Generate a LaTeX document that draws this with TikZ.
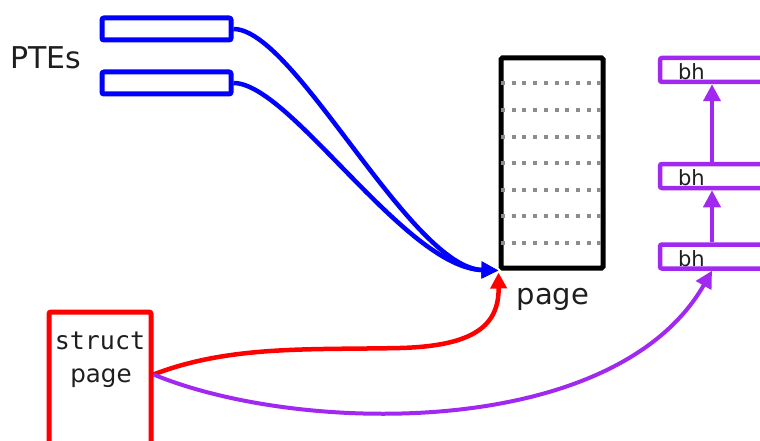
\documentclass[tikz,border=0pt]{standalone}
\usepackage{fontspec}
\setmainfont{DejaVu Sans}
\setmonofont{DejaVu Sans Mono}
\usetikzlibrary{arrows.meta,calc}

\definecolor{ptblue}{RGB}{0,0,255}
\definecolor{spred}{RGB}{255,0,0}
\definecolor{bhpurple}{RGB}{160,40,240}
\definecolor{ink}{RGB}{30,30,30}
\definecolor{dotgray}{RGB}{140,140,140}

\tikzset{
  ptebox/.style={draw=ptblue, line width=5pt, rounded corners=2pt,
    minimum width=129pt, minimum height=22pt, inner sep=0pt},
  pagebox/.style={draw=black, line width=5pt, rounded corners=1.5pt,
    minimum width=102pt, minimum height=210pt, inner sep=0pt},
  bhbox/.style={draw=bhpurple, line width=4.5pt, rounded corners=2pt,
    text width=110pt, align=left, inner xsep=18pt, inner ysep=0pt,
    text height=19pt, text depth=0pt,
    minimum height=24pt, text=ink, font=\fontsize{21}{24}\selectfont},
  spbox/.style={draw=spred, line width=5pt, rounded corners=2pt,
    minimum width=102pt, minimum height=200pt, inner sep=0pt},
  lbl/.style={text=ink, inner sep=0pt},
  dotline/.style={dotgray, line width=4pt, dash pattern=on 4pt off 6.7pt},
  blueconn/.style={ptblue, line width=4.5pt, -{Triangle[length=17pt,width=16pt]}},
  redconn/.style={spred, line width=4.5pt, -{Triangle[length=16pt,width=16pt]}},
  purpconn/.style={bhpurple, line width=4pt, -{Triangle[length=17pt,width=17pt]}},
}

\begin{document}
\begin{tikzpicture}[x=1pt,y=-1pt]
  \useasboundingbox (0,0) rectangle (760,441);
  \clip (0,0) rectangle (760,441);

  % page table entries
  \node[ptebox] (pte1) at (166.5,29) {};
  \node[ptebox] (pte2) at (166.5,83) {};
  \node[lbl, font=\fontsize{30}{36}\selectfont] (ptes) at (46,58) {PTEs};

  % the physical page with its blocks
  \node[pagebox] (page) at (552,163) {};
  \foreach \yy in {83,110,137,163,190,216,243}
    \draw[dotline] (501,\yy) -- (602,\yy);
  \node[lbl, font=\fontsize{29}{34}\selectfont] (pagelbl) at (553,299) {page};

  % buffer heads
  \node[bhbox] (bh1) at (733,70) {bh};
  \node[bhbox] (bh2) at (733,176) {bh};
  \node[bhbox] (bh3) at (733,256.5) {bh};
  \coordinate (ax) at (712,0);

  % struct page
  \node[spbox] (sp) at (100,412) {};
  \node[lbl, font=\ttfamily\fontsize{25}{30}\selectfont] (sptop) at (100,341) {struct};
  \node[lbl, font=\fontsize{24.5}{29}\selectfont] (spbot) at (101,378) {page};
  \coordinate (spout) at ($(sp.north east)+(0,65)$);

  % mappings onto the page
  \draw[blueconn] (pte1.east) .. controls (295,29) and (410,268) .. (page.south west);
  \draw[blueconn] (pte2.east) .. controls (290,83) and (405,268) .. (page.south west);

  % struct page -> page and -> buffer heads
  \draw[redconn] (spout) .. controls (230,345) and (310,350) .. (400,348)
                 .. controls (475,346) and (499,325) .. ($(page.south west)+(0,2)$);
  \draw[purpconn] (spout) .. controls (300,435) and (615,440) .. (bh3.south -| ax);

  % buffer head chain
  \draw[purpconn] (bh3.north -| ax) -- (bh2.south -| ax);
  \draw[purpconn] (bh2.north -| ax) -- (bh1.south -| ax);
\end{tikzpicture}
\end{document}
